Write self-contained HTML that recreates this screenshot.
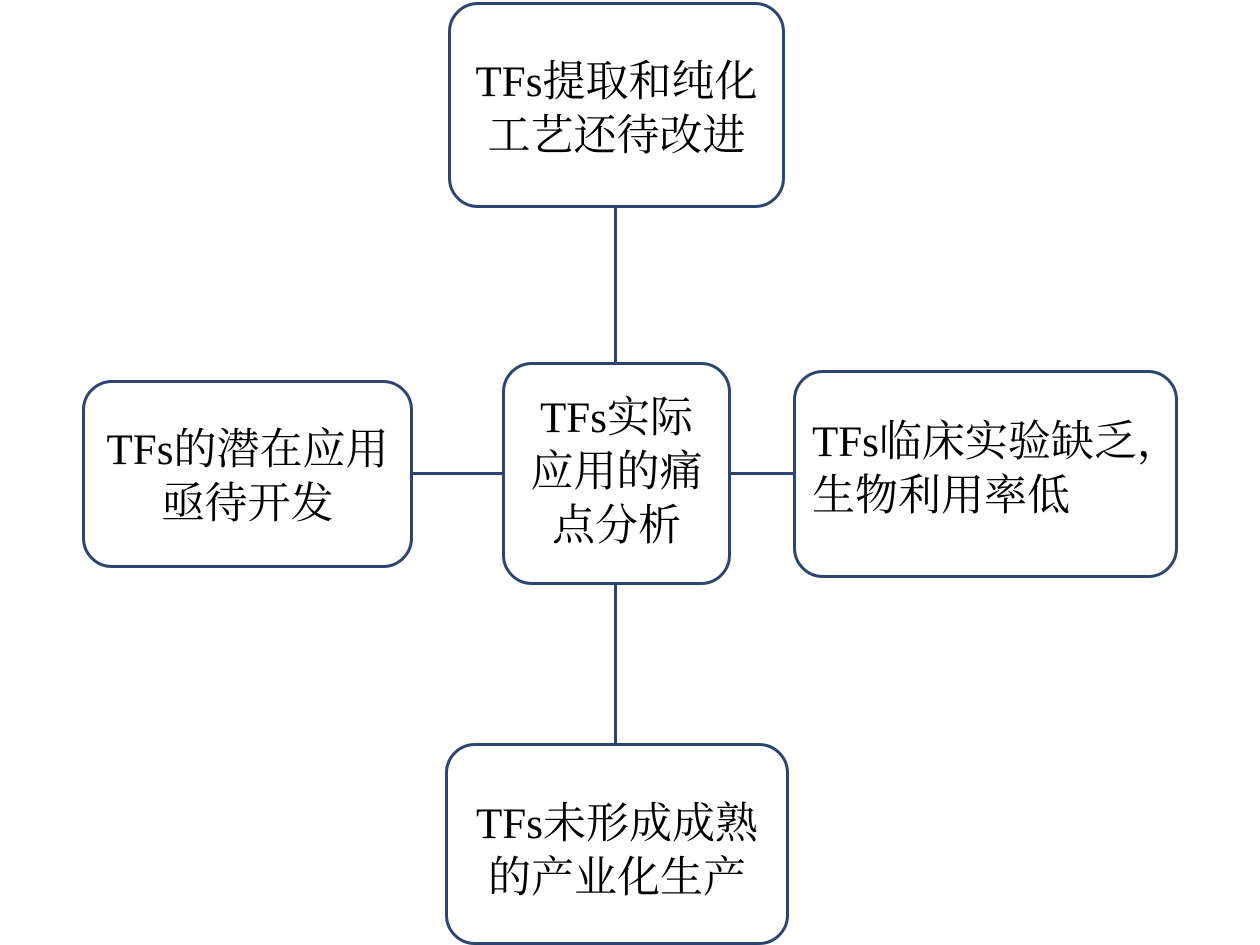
<!DOCTYPE html>
<html><head><meta charset="utf-8"><style>
html,body{margin:0;padding:0;background:#fff;}
body{width:1260px;height:945px;position:relative;overflow:hidden;font-family:"Liberation Serif","Noto Serif CJK SC",serif;color:#000;}
.b{position:absolute;box-sizing:border-box;border:3px solid #2c4570;border-radius:30px;background:#fff;display:flex;align-items:center;justify-content:center;text-align:center;font-size:43px;line-height:54px;white-space:nowrap;}
.l{position:absolute;background:#2c4570;}
</style></head><body>
<div class="l" style="left:614px;top:205px;width:3px;height:160px"></div>
<div class="l" style="left:614px;top:582px;width:3px;height:164px"></div>
<div class="l" style="left:410px;top:472px;width:94px;height:3px"></div>
<div class="l" style="left:728px;top:472px;width:67px;height:3px"></div>
<div class="b" style="left:448px;top:2px;width:337px;height:206px;padding-top:10px">TFs提取和纯化<br>工艺还待改进</div>
<div class="b" style="left:502px;top:362px;width:229px;height:223px;padding-bottom:2px">TFs实际<br>应用的痛<br>点分析</div>
<div class="b" style="left:82px;top:380px;width:331px;height:188px;padding-top:8px">TFs的潜在应用<br>亟待开发</div>
<div class="b" style="left:793px;top:370px;width:385px;height:208px;justify-content:flex-start;text-align:left;padding-left:16px;padding-bottom:8px">TFs临床实验缺乏，<br>生物利用率低</div>
<div class="b" style="left:445px;top:743px;width:344px;height:202px;padding-top:16px">TFs未形成成熟<br>的产业化生产</div>
</body></html>
